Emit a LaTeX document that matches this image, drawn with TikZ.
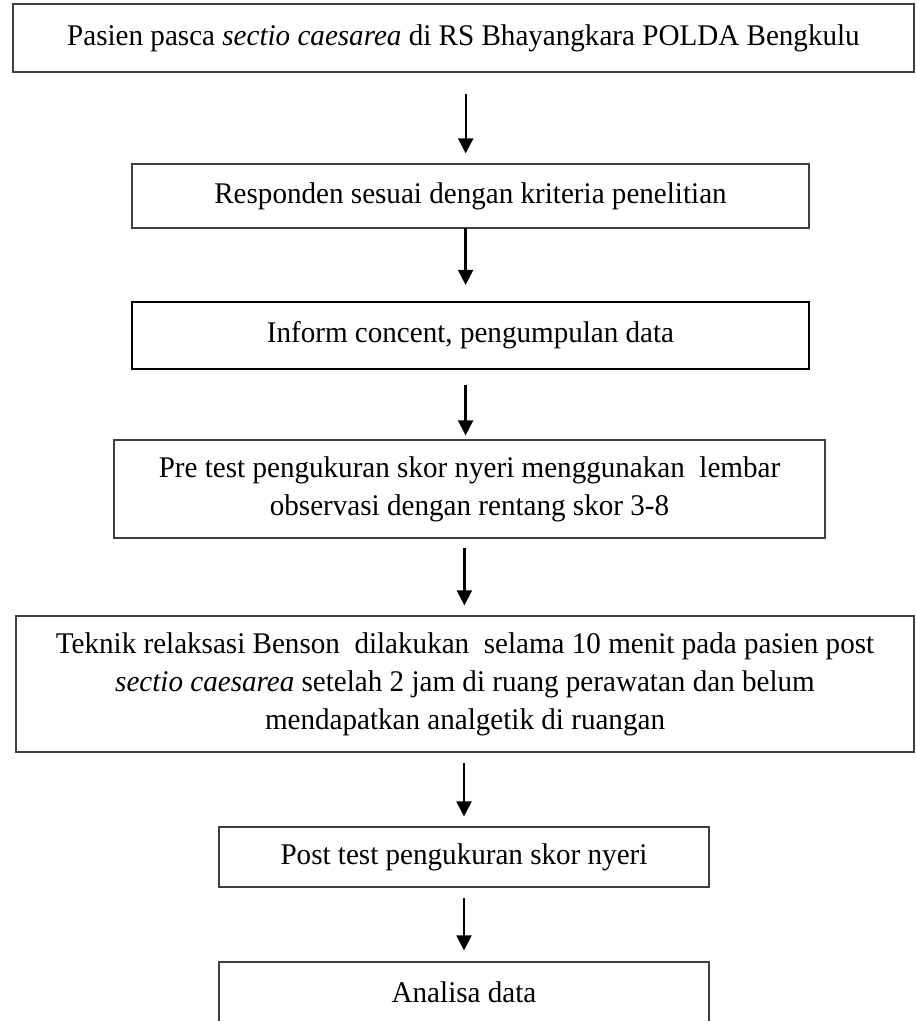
\documentclass[tikz,border=0pt]{standalone}
\usepackage{fontspec}
\setmainfont[FakeStretch=0.97]{Liberation Serif}
\usetikzlibrary{arrows.meta}

\begin{document}
\begin{tikzpicture}[x=0.4pt, y=-0.4pt, font=\fontsize{12}{15.2}\selectfont]
  \tikzset{
    box/.style={draw=black!75, line width=0.5pt, inner sep=0pt, align=center},
    arr/.style={-{Triangle[width=6pt,length=6pt]}, line width=0.9pt}
  }
  \useasboundingbox (0,0) rectangle (916,1021);

  % Flow of the study
  \node[box, minimum width=360.4pt, minimum height=27.2pt] (b1) at (463.5,38)
    {Pasien pasca \textit{sectio caesarea} di RS Bhayangkara POLDA Bengkulu};
  \node[box, minimum width=270.8pt, minimum height=25.6pt] (b2) at (470.5,196)
    {Responden sesuai dengan kriteria penelitian};
  \node[box, draw=black, line width=0.9pt, minimum width=270.8pt, minimum height=26.8pt] (b3) at (470.5,335.5)
    {Inform concent, pengumpulan data};
  \node[box, minimum width=284.4pt, minimum height=39.2pt] (b4) at (469.5,489)
    {Pre test pengukuran skor nyeri menggunakan~ lembar\\observasi dengan rentang skor 3-8};
  \node[box, minimum width=359.2pt, minimum height=54.4pt] (b5) at (465,684)
    {Teknik relaksasi Benson~ dilakukan~ selama 10 menit pada pasien post\\
     \textit{sectio caesarea} setelah 2 jam di ruang perawatan dan belum\\
     mendapatkan analgetik di ruangan};
  \node[box, minimum width=196pt, minimum height=24pt] (b6) at (464,857)
    {Post test pengukuran skor nyeri};
  \node[box, minimum width=196pt, minimum height=24.4pt] (b7) at (464,992.5)
    {Analisa data};

  % arrows
  \coordinate (a1) at (465.7,94);
  \coordinate (a2) at (465.6,228);
  \coordinate (a3) at (465.6,385);
  \coordinate (a4) at (464.4,548);
  \coordinate (a5) at (464,763);
  \coordinate (a6) at (464,898);
  \draw[arr, shorten >=4pt] (a1) -- (a1 |- b2.north);
  \draw[arr, shorten >=6.4pt] (a2) -- (a2 |- b3.north);
  \draw[arr, shorten >=1.6pt] (a3) -- (a3 |- b4.north);
  \draw[arr, shorten >=4pt] (a4) -- (a4 |- b5.north);
  \draw[arr, shorten >=4pt] (a5) -- (a5 |- b6.north);
  \draw[arr, shorten >=4.4pt] (a6) -- (a6 |- b7.north);
\end{tikzpicture}
\end{document}
